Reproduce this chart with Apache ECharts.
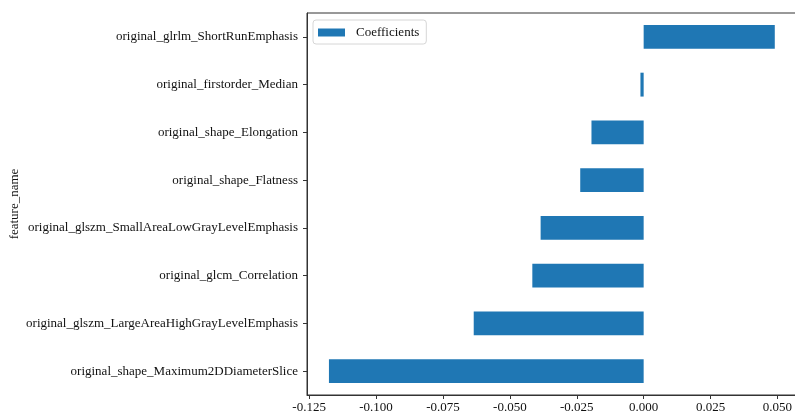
<!DOCTYPE html>
<html>
<head>
<meta charset="utf-8">
<script src="https://cdn.jsdelivr.net/npm/echarts@6/dist/echarts.min.js"></script>
<style>
  html, body { margin: 0; padding: 0; background: #fff; }
  #chart { width: 795px; height: 414px; }
</style>
</head>
<body>
<div id="chart"></div>
<script>
// Feature names, listed top to bottom as drawn
const featureNames = [
  'original_glrlm_ShortRunEmphasis',
  'original_firstorder_Median',
  'original_shape_Elongation',
  'original_shape_Flatness',
  'original_glszm_SmallAreaLowGrayLevelEmphasis',
  'original_glcm_Correlation',
  'original_glszm_LargeAreaHighGrayLevelEmphasis',
  'original_shape_Maximum2DDiameterSlice'
];
// Model coefficient for each feature
const coefficients = [0.0490, -0.0012, -0.0195, -0.0237, -0.0385, -0.0416, -0.0635, -0.1176];
// Tick positions on the value axis
const xTicks = [-0.125, -0.100, -0.075, -0.050, -0.025, 0.000, 0.025, 0.050];

const FONT = '"Liberation Serif", "Times New Roman", serif';
const AXIS_COLOR = '#333';

const chart = echarts.init(document.getElementById('chart'), null, { renderer: 'canvas' });

chart.setOption({
  animation: false,
  backgroundColor: '#fff',
  grid: {
    left: 307, top: 13, width: 490, height: 382,
    containLabel: false,
    outerBoundsMode: 'none',
    show: true, borderColor: AXIS_COLOR, borderWidth: 1, backgroundColor: 'transparent'
  },
  legend: {
    left: 313, top: 20,
    padding: [6, 7, 5, 5],
    itemWidth: 27, itemHeight: 8,
    borderColor: '#d6d6d6', borderWidth: 1, borderRadius: 3,
    backgroundColor: 'rgba(255,255,255,0.8)',
    textStyle: { fontFamily: FONT, fontSize: 13, color: '#111', padding: [0, 0, 0, 6] },
    data: [{ name: 'Coefficients', icon: 'rect' }]
  },
  xAxis: {
    type: 'value',
    min: -0.1258, max: 0.0573,
    splitLine: { show: false },
    axisLine: { show: true, onZero: false, lineStyle: { color: AXIS_COLOR, width: 1 } },
    axisTick: { show: true, length: 4, customValues: xTicks, lineStyle: { color: AXIS_COLOR } },
    axisLabel: {
      customValues: xTicks,
      fontFamily: FONT, fontSize: 13, color: '#111', margin: 6,
      formatter: v => v.toFixed(3)
    }
  },
  yAxis: {
    type: 'category',
    inverse: true,
    data: featureNames,
    name: 'feature_name',
    nameLocation: 'middle',
    nameRotate: 90,
    nameGap: 286,
    nameMoveOverlap: false,
    nameTextStyle: { fontFamily: FONT, fontSize: 13, color: '#111' },
    axisLine: { show: true, onZero: false, lineStyle: { color: AXIS_COLOR, width: 1 } },
    axisTick: { show: true, alignWithLabel: true, length: 4, lineStyle: { color: AXIS_COLOR } },
    axisLabel: { fontFamily: FONT, fontSize: 13, color: '#111', margin: 9, padding: [4, 0, 0, 0] },
    splitLine: { show: false }
  },
  series: [{
    name: 'Coefficients',
    type: 'bar',
    data: coefficients,
    barWidth: '50%',
    itemStyle: { color: '#1f77b4' }
  }]
});
</script>
</body>
</html>
